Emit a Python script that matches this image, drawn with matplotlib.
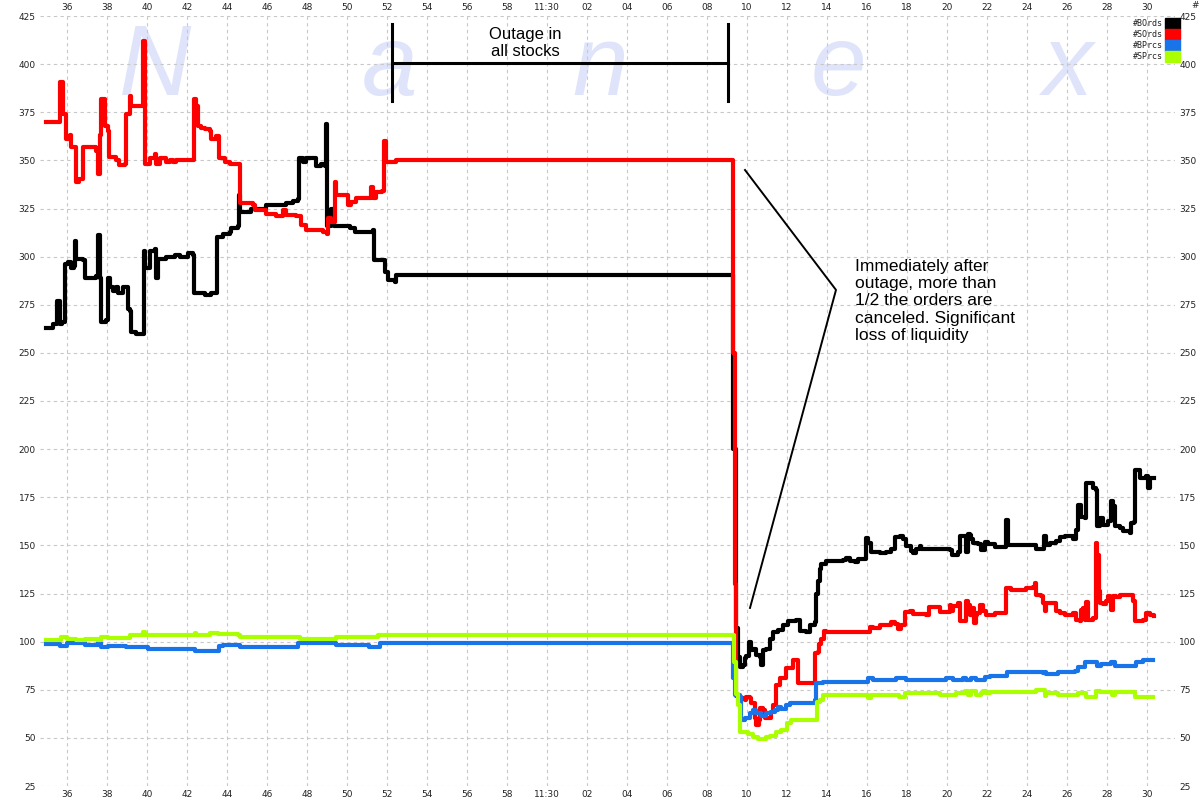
import matplotlib
matplotlib.use("Agg")
import matplotlib.pyplot as plt
from matplotlib.patches import Rectangle

# minutes after 11:00 (the 60 mark is labelled "11:30" on the original)
bords_t = [34.93, 35.3, 35.47, 35.52, 35.6, 35.67, 35.75, 35.85, 35.92, 36.05, 36.22, 36.35, 36.38, 36.47,
           36.63, 36.8, 36.88, 37.38, 37.47, 37.55, 37.63, 37.72, 37.97, 38.05, 38.13, 38.3, 38.47, 38.55,
           38.8, 38.97, 39.05, 39.13, 39.18, 39.47, 39.8, 39.85, 39.92, 40.13, 40.38, 40.47, 40.55, 40.8,
           40.97, 41.38, 41.63, 42.05, 42.3, 42.35, 42.88, 43.22, 43.47, 43.52, 43.8, 44.13, 44.22, 44.55,
           44.6, 44.63, 45.22, 45.88, 45.97, 46.97, 47.3, 47.55, 47.6, 47.8, 47.97, 48.3, 48.47, 48.72,
           48.88, 48.93, 49.02, 49.22, 49.33, 50.13, 50.38, 51.3, 51.35, 51.77, 51.88, 52.05, 52.38, 52.43,
           69.2, 69.3, 69.43, 69.55, 69.63, 69.8, 69.88, 69.97, 70.1, 70.22, 70.3, 70.47, 70.63, 70.72,
           70.8, 70.97, 71.13, 71.3, 71.55, 71.8, 72.05, 72.47, 72.63, 72.97, 73.13, 73.38, 73.45, 73.55,
           73.63, 73.72, 73.97, 74.8, 74.97, 75.13, 75.38, 75.55, 75.93, 75.97, 76.05, 76.22, 76.63, 76.97,
           77.22, 77.38, 77.63, 77.8, 77.97, 78.22, 78.3, 78.47, 78.63, 78.72, 79.55, 80.13, 80.27, 80.55,
           80.63, 80.72, 80.97, 81.05, 81.13, 81.22, 81.3, 81.55, 81.72, 81.88, 82.05, 82.3, 82.38, 82.88,
           82.97, 83.05, 84.22, 84.47, 84.72, 84.83, 84.97, 85.13, 85.47, 85.63, 85.88, 86.3, 86.47, 86.55,
           86.72, 86.88, 86.93, 87.13, 87.3, 87.47, 87.5, 87.63, 87.8, 88.05, 88.22, 88.3, 88.38, 88.63,
           88.8, 89.13, 89.22, 89.33, 89.38, 89.63, 89.88, 89.97, 90.05, 90.13, 90.33]
bords_v = [263, 265, 265, 277, 277, 265, 266, 266, 296, 297, 294, 295, 308, 299,
           299, 298, 289, 289, 290, 311, 289, 266, 267, 289, 284, 282, 284, 281,
           284, 284, 273, 272, 261, 260, 260, 303, 294, 303, 304, 289, 299, 299,
           300, 301, 300, 302, 301, 281, 280, 281, 281, 310, 312, 313, 315, 316,
           332, 323, 325, 325, 327, 328, 329, 330, 351, 349, 351, 351, 347, 348,
           347, 369, 316, 325, 316, 315, 313, 314, 298, 298, 292, 288, 287, 290.5,
           290.5, 200, 107, 92, 87, 88, 91.5, 92.4, 99.9, 95.5, 96.4, 93, 92, 88,
           95.5, 96.4, 101.6, 105.1, 106, 108.5, 110.6, 111.2, 105.4, 105.1, 108.5, 110.3, 125, 131.5,
           137.6, 140.2, 141.9, 142.2, 143.3, 141.9, 141.6, 142.7, 143, 153.7, 151.4, 146.3, 145.8, 146.3,
           148, 154.1, 154.9, 153.2, 149.7, 147.1, 145.8, 148, 149.7, 148, 148, 147.5, 145, 146.3,
           154.9, 154.9, 146.3, 155.8, 155.5, 153.2, 151.4, 150.6, 147.5, 151.5, 150.6, 150.6, 148.9, 149,
           163.4, 150.4, 150.4, 148.3, 148.3, 154.7, 150.4, 151.3, 152.1, 154.2, 154.7, 153.5, 158.2, 171.2,
           164.6, 164.3, 182.5, 182.5, 179.9, 179, 159.9, 164.3, 160.8, 162.5, 172.9, 170.3, 159.9, 159.1,
           157.7, 156.5, 161.7, 162.2, 188.9, 185.1, 185.1, 185.9, 179.9, 185.1, 185.1]

sords_t = [34.93, 35.55, 35.67, 35.8, 35.93, 36.13, 36.22, 36.38, 36.47, 36.6, 36.8, 37.05, 37.47, 37.55,
           37.63, 37.72, 37.88, 38.05, 38.1, 38.47, 38.6, 38.88, 38.97, 39.13, 39.22, 39.72, 39.8, 39.88,
           40.13, 40.38, 40.47, 40.63, 40.88, 40.97, 41.13, 41.3, 41.47, 42.3, 42.33, 42.47, 42.55, 42.72,
           42.88, 43.13, 43.22, 43.47, 43.58, 43.88, 44.13, 44.63, 44.65, 45.3, 45.38, 45.97, 46.47, 46.8,
           46.97, 47.47, 47.72, 47.97, 48.8, 49.0, 49.05, 49.22, 49.38, 49.47, 49.88, 50.05, 50.22, 50.47,
           51.13, 51.22, 51.3, 51.47, 51.77, 51.83, 51.97, 52.47, 69.2, 69.3, 69.4, 69.47, 69.55, 69.72,
           69.88, 69.97, 70.13, 70.22, 70.38, 70.47, 70.6, 70.67, 70.8, 70.88, 71.05, 71.22, 71.3, 71.43,
           71.63, 71.97, 72.3, 72.47, 72.55, 73.3, 73.38, 73.55, 73.6, 73.72, 73.83, 73.97, 75.97, 76.13,
           76.3, 76.63, 76.97, 77.22, 77.38, 77.55, 77.72, 77.88, 78.13, 78.3, 78.55, 78.97, 79.1, 79.47,
           79.63, 80.13, 80.22, 80.3, 80.55, 80.63, 80.88, 80.97, 81.05, 81.17, 81.27, 81.33, 81.43, 81.5,
           81.63, 81.72, 81.8, 81.97, 82.22, 82.38, 82.88, 82.97, 83.22, 83.8, 83.97, 84.3, 84.38, 84.47,
           84.72, 84.8, 84.88, 84.97, 85.38, 85.47, 85.63, 85.88, 86.3, 86.43, 86.63, 86.72, 86.8, 86.88,
           86.97, 87.05, 87.3, 87.43, 87.5, 87.6, 87.67, 87.8, 87.97, 88.05, 88.13, 88.22, 88.3, 88.47,
           88.63, 89.22, 89.3, 89.38, 89.8, 89.97, 90.13, 90.33]
sords_v = [370, 370, 390.5, 374, 361, 363, 357, 357, 339, 340.5, 357, 357, 355, 343,
           363, 382, 368, 365.5, 352, 350, 347.4, 348, 374, 383.6, 378.4, 378.4, 412, 348,
           351, 353.4, 348, 351, 351, 349, 350, 349, 350, 350, 382, 378.4, 368, 367,
           366.4, 365.5, 361, 362.6, 351, 349, 348.3, 347.8, 327.6, 327, 324, 322.4, 321.2, 324,
           321.6, 321.2, 316.4, 313.8, 313, 312, 320, 318, 338.8, 332.2, 332, 326.7, 328.4, 330.5,
           330.5, 336.2, 330.2, 333.6, 334, 360.3, 349, 350, 350, 250, 130, 72, 71.4, 70.5,
           69.6, 71.4, 70.5, 67.9, 60.1, 56.7, 59.3, 65.3, 64.4, 60.1, 60.5, 63.6, 67, 77.4,
           80.9, 86.1, 90.4, 90.4, 78.3, 78.3, 93.9, 94.8, 99, 101.6, 105.4, 105.1, 104.8, 107.7,
           106.9, 108.6, 108.6, 110.3, 108.9, 106.5, 108.6, 115.5, 115.8, 114.6, 114.6, 113.8, 118.1, 118.1,
           115.5, 119.2, 115.7, 118.3, 120.1, 110.5, 110.5, 120.9, 119.2, 114, 117.5, 109.7, 114, 114.9,
           119.2, 119.2, 115.7, 114, 114, 114.9, 114.9, 127.9, 127, 127, 127.9, 128.2, 130.5, 124.4,
           123.5, 120.1, 115.7, 120.1, 120.1, 115.7, 114.9, 114, 114.9, 111.4, 110.9, 116.6, 117.5, 111.4,
           120.6, 111.4, 112.3, 151.3, 145.2, 126.1, 120.1, 119.5, 120.9, 123.5, 121.8, 116.6, 123.5, 123,
           124.4, 124.4, 120.9, 110.5, 111.4, 114.9, 114, 113.1]

bprcs_t = [34.93, 35.55, 35.67, 35.8, 36.0, 36.38, 36.88, 37.47, 37.55, 37.72, 38.05, 38.88, 38.97, 39.97,
           40.05, 42.3, 42.38, 43.47, 43.6, 43.8, 44.55, 44.63, 47.47, 47.55, 49.38, 49.47, 50.97, 51.1,
           51.55, 51.63, 69.25, 69.3, 69.38, 69.63, 69.72, 69.88, 70.13, 70.3, 70.47, 70.72, 70.97, 71.22,
           71.38, 71.55, 71.72, 71.97, 72.13, 72.63, 73.13, 73.38, 73.43, 73.8, 75.97, 76.05, 76.3, 77.47,
           77.63, 77.97, 79.97, 80.3, 80.8, 80.97, 81.22, 81.47, 81.88, 82.13, 82.88, 83.0, 84.8, 84.88,
           84.97, 85.38, 85.55, 86.38, 86.55, 86.88, 87.38, 87.5, 87.72, 88.22, 88.38, 89.22, 89.47, 89.8,
           90.3]
bprcs_v = [98.8, 98.8, 97.7, 97.7, 99.1, 99.1, 98.1, 98.1, 99.5, 97.4, 97.7, 97.7, 97.1, 97.1,
           96, 96, 95.3, 95.3, 97.7, 98.1, 98.1, 97.1, 97.1, 99.1, 99.1, 98.1, 98.1, 97.1,
           97.1, 99.1, 99.2, 80.9, 72.2, 71.4, 59.3, 60.1, 62.7, 64.4, 62.7, 61.5, 62.7, 63.6,
           64.4, 66.2, 65, 67, 67.9, 68.3, 68.3, 69.6, 78.3, 78.8, 78.8, 81.2, 80, 80.9,
           81.2, 80, 80.9, 80, 81.2, 80, 81.2, 80, 81.7, 82.2, 82.2, 84.4, 83.6, 84.4,
           83.2, 83, 84.4, 84.8, 87, 89.6, 89.6, 87.4, 88.4, 89.6, 87.4, 87.4, 89.6, 90.5,
           90.5]

sprcs_t = [34.93, 35.63, 35.72, 35.93, 36.0, 36.47, 36.88, 37.47, 37.55, 37.72, 38.05, 38.97, 39.13, 39.72,
           39.8, 39.88, 42.3, 42.38, 42.47, 43.13, 43.47, 43.55, 44.55, 44.63, 47.47, 47.63, 49.38, 49.47,
           51.47, 51.55, 69.3, 69.35, 69.43, 69.55, 69.63, 69.72, 70.05, 70.3, 70.55, 70.97, 71.13, 71.47,
           71.72, 72.0, 72.22, 73.47, 73.5, 73.63, 73.8, 75.97, 76.05, 76.22, 77.47, 77.6, 77.88, 79.47,
           79.63, 80.13, 80.47, 80.8, 80.88, 81.05, 81.22, 81.47, 81.72, 81.8, 81.97, 82.13, 84.38, 84.47,
           84.72, 84.88, 84.97, 85.47, 85.55, 86.38, 86.55, 86.97, 87.38, 87.47, 87.63, 87.88, 88.13, 88.27,
           88.38, 89.13, 89.38, 89.97, 90.3]
sprcs_v = [100.9, 100.9, 102.3, 102.3, 101.6, 100.9, 101.6, 101.6, 100.9, 102.6, 101.7, 102.1, 103.3, 103.6,
           105, 103.6, 103.6, 104.3, 103.6, 104.3, 104.7, 104, 103.6, 102.6, 102.6, 101.6, 101.6, 102.6,
           102.6, 103.6, 103.5, 89.5, 73, 67, 53.2, 52.9, 51.8, 50.6, 49.2, 50.6, 51.1, 52.9,
           54.1, 57.5, 59.3, 59.3, 68.8, 69.6, 72.2, 72.2, 70.5, 72.2, 72.2, 71.2, 73.1, 73.4,
           72.2, 72.2, 73.1, 73.1, 74.3, 72.2, 74.3, 72.2, 73.1, 74.3, 73.1, 73.7, 73.7, 74.9,
           74.9, 72, 73.2, 73.2, 72.3, 72.3, 73.2, 71.1, 71.1, 74.4, 74, 73.7, 73.7, 72.3,
           73.7, 73.7, 71.4, 71.4, 71.2]

series_names = ["#BOrds", "#SOrds", "#BPrcs", "#SPrcs"]
series_colors = ["#000000", "#ff0000", "#1874e8", "#aaff00"]

x_ticks = list(range(36, 91, 2))
x_labels = ["11:30" if t == 60 else (str(t) if t < 60 else "%02d" % (t - 60)) for t in x_ticks]
y_ticks = list(range(25, 426, 25))

fig = plt.figure(figsize=(12, 8), dpi=100)
ax = fig.add_axes([40 / 1200, 14 / 800, 1135 / 1200, 770 / 800])

# watermark
for letter, xp in zip("Nanex", [155, 390, 600, 838, 1068]):
    ax.text(xp / 1200, 1 - 95 / 800, letter, transform=fig.transFigure, ha="center", va="baseline",
            fontsize=72, style="italic", family="Liberation Sans", color="#e0e4fb", zorder=0)

series = [(bords_t, bords_v), (sords_t, sords_v), (bprcs_t, bprcs_v), (sprcs_t, sprcs_v)]
for i, (t, v) in enumerate(series):
    ax.plot(t, v, color=series_colors[i], lw=3, drawstyle="steps-post", zorder=3 + i)

ax.set_xlim(34.65, 91.4)
ax.set_ylim(25, 425)
ax.set_xticks(x_ticks)
ax.set_xticklabels(x_labels)
ax.set_yticks(y_ticks)
ax.grid(True, color="#c8c8c8", linestyle=(0, (3, 3)), lw=0.8)
ax.set_axisbelow(True)
for s in ax.spines.values():
    s.set_visible(False)
ax.tick_params(axis="both", length=0, labelsize=6.5, labelcolor="#222222", pad=3,
               top=True, labeltop=True, right=True, labelright=True)

# outage bracket
ax.plot([52.25, 69.05], [400.6, 400.6], color="black", lw=2.2, zorder=8)
ax.plot([52.25, 52.25], [380.8, 420.8], color="black", lw=2.2, zorder=8)
ax.plot([69.05, 69.05], [380.8, 420.8], color="black", lw=2.2, zorder=8)
ax.text(58.9, 411, "Outage in\nall stocks", ha="center", va="center", fontsize=12,
        family="Liberation Sans", zorder=9)

# pointer lines and comment
ax.plot([69.9, 74.45, 70.15], [345, 282.7, 117.5], color="black", lw=1.4, zorder=8)
ax.text(75.4, 299, "Immediately after\noutage, more than\n1/2 the orders are\ncanceled. Significant\nloss of liquidity",
        ha="left", va="top", fontsize=12.5, family="Liberation Sans", linespacing=1.2, zorder=9)

# legend in the top-right corner
for i, name in enumerate(series_names):
    y0 = 800 - 18 - 11 * (i + 1)
    fig.patches.append(Rectangle((1165 / 1200, y0 / 800), 15 / 1200, 11 / 800,
                                 transform=fig.transFigure, color=series_colors[i], zorder=10))
    fig.text(1163 / 1200, (y0 + 5.5) / 800, name, ha="right", va="center", fontsize=6,
             family="DejaVu Sans Mono", color="#222222")
fig.text(1195 / 1200, 1 - 5 / 800, "#", ha="center", va="center", fontsize=6.5, color="#222222")

fig.savefig("out.png", dpi=100)
